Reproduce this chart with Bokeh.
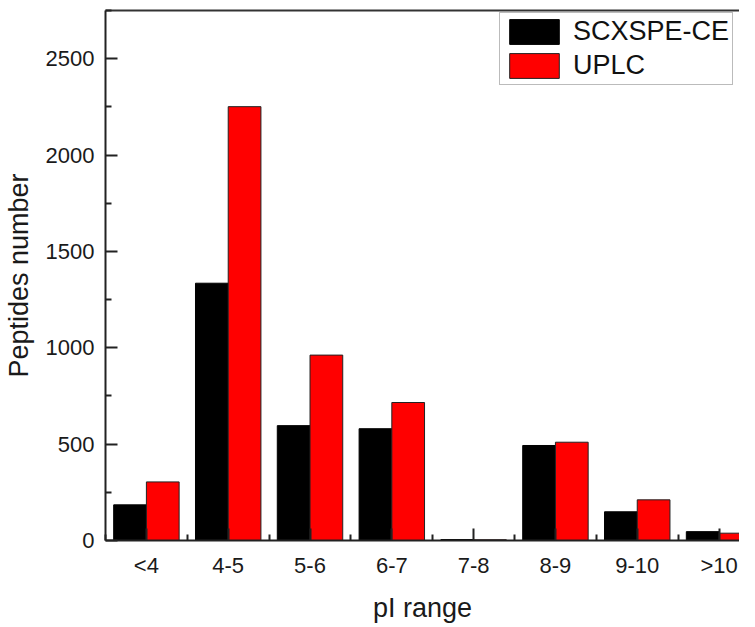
from bokeh.plotting import figure
from bokeh.models import (Range1d, FixedTicker, LinearAxis, Legend, LegendItem,
                          ColumnDataSource)
from bokeh.embed import file_html
from bokeh.resources import INLINE

categories = ["<4", "4-5", "5-6", "6-7", "7-8", "8-9", "9-10", ">10"]
scxspe_ce = [185, 1335, 596, 580, 5, 493, 149, 46]
uplc = [304, 2251, 962, 716, 4, 510, 211, 38]
y_ticks = [0, 500, 1000, 1500, 2000, 2500]
y_max = 2750

idx = list(range(len(categories)))
centers = [i + 0.5 for i in idx]
src = ColumnDataSource(dict(
    x1=[i + 0.3 for i in idx],
    x2=[i + 0.7 for i in idx],
    a=scxspe_ce,
    b=uplc,
))

FONT = "Liberation Sans"

p = figure(width=739, height=625, output_backend="svg", toolbar_location=None,
           x_range=Range1d(0, 7.75), y_range=Range1d(0, y_max),
           min_border_left=101, min_border_top=10, min_border_right=0,
           min_border_bottom=80)
p.grid.visible = False
p.outline_line_color = None
p.background_fill_color = "white"
p.border_fill_color = "white"

r1 = p.vbar(x="x1", top="a", width=0.4, source=src, fill_color="black",
            line_color="black", line_width=1)
r2 = p.vbar(x="x2", top="b", width=0.4, source=src, fill_color="#ff0000",
            line_color="#222222", line_width=1)

xa = p.xaxis[0]
xa.ticker = FixedTicker(ticks=centers, minor_ticks=list(range(0, 9)))
xa.major_label_overrides = {c: lab for c, lab in zip(centers, categories)}
xa.axis_label = "pI range"

ya = p.yaxis[0]
ya.ticker = FixedTicker(ticks=y_ticks, minor_ticks=[250 + 500 * k for k in range(6)])
ya.axis_label = "Peptides number"

for ax in (xa, ya):
    ax.axis_line_width = 2
    ax.axis_line_color = "#222222"
    ax.major_tick_in = 12
    ax.major_tick_out = 0
    ax.minor_tick_in = 6
    ax.minor_tick_out = 0
    ax.major_tick_line_width = 2
    ax.minor_tick_line_width = 2
    ax.major_tick_line_color = "#222222"
    ax.minor_tick_line_color = "#222222"
    ax.major_label_text_font = FONT
    ax.major_label_text_font_size = "22px"
    ax.major_label_text_color = "#1a1a1a"
    ax.axis_label_text_font = FONT
    ax.axis_label_text_font_size = "27px"
    ax.axis_label_text_font_style = "normal"
    ax.axis_label_text_color = "#1a1a1a"

xa.major_label_standoff = 12
xa.axis_label_standoff = 12
ya.major_label_standoff = 11
ya.axis_label_standoff = 9

top = LinearAxis(axis_line_width=2, axis_line_color="#333333",
                 major_tick_in=0, major_tick_out=0, minor_tick_in=0, minor_tick_out=0,
                 major_label_text_font_size="0px", major_label_standoff=0,
                 ticker=FixedTicker(ticks=[]))
p.add_layout(top, "above")

legend = Legend(items=[LegendItem(label="SCXSPE-CE", renderers=[r1]),
                       LegendItem(label="UPLC", renderers=[r2])],
                location=(394, 455))
legend.label_text_font = FONT
legend.label_text_font_size = "27px"
legend.label_text_color = "#111111"
legend.glyph_width = 62
legend.glyph_height = 31
legend.label_height = 31
legend.label_standoff = 8
legend.spacing = 3
legend.padding = 3
legend.margin = 0
legend.border_line_color = "#777777"
legend.border_line_width = 1.5
legend.background_fill_alpha = 1
p.add_layout(legend, "center")

open("out.html", "w").write(file_html(p, INLINE))
